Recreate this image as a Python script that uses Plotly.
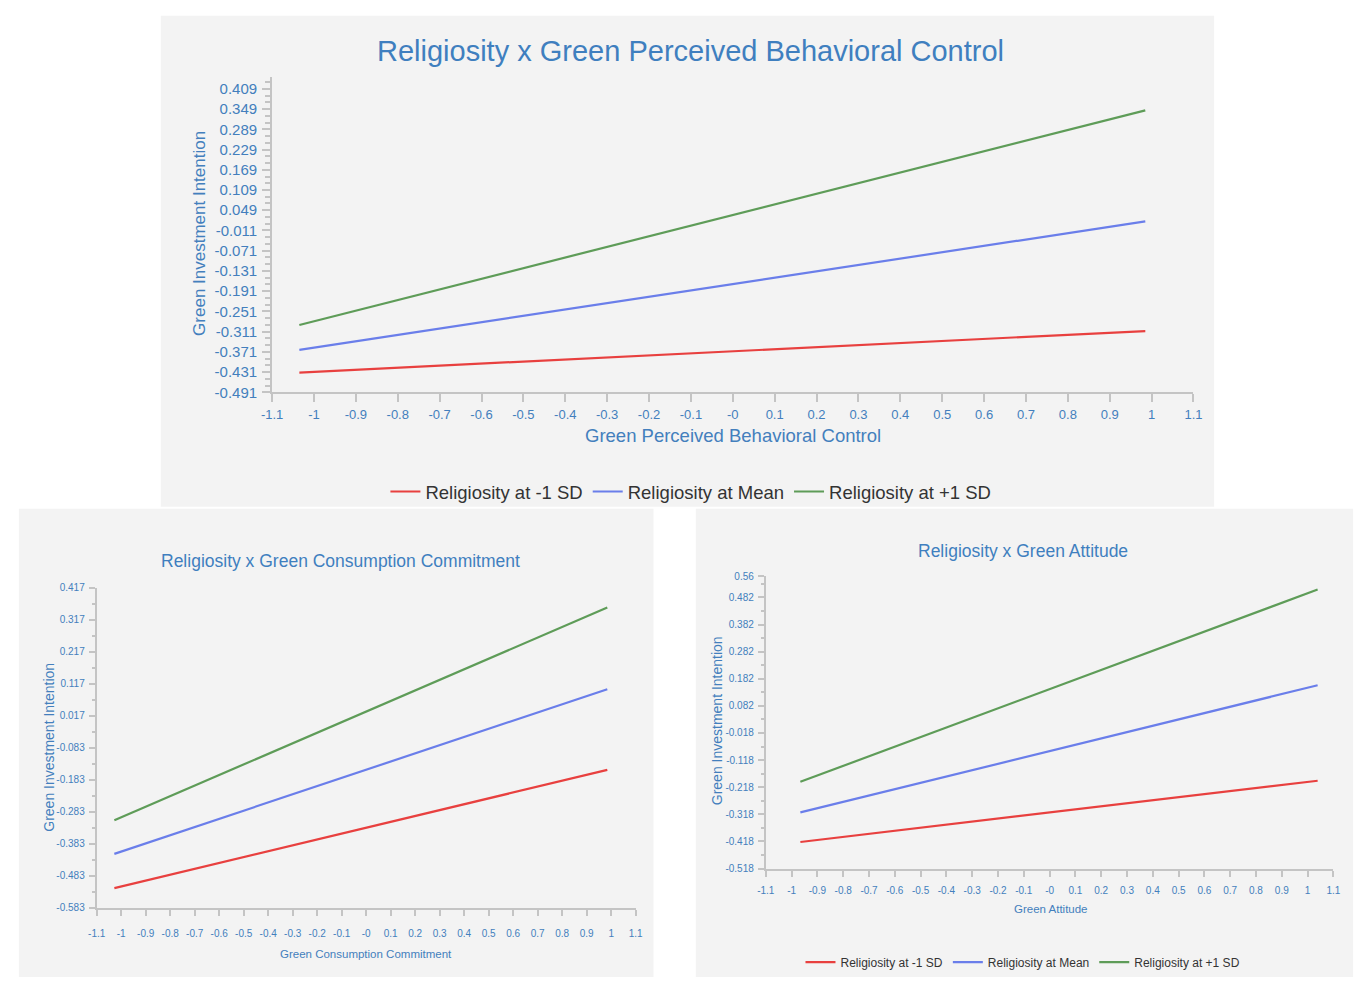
import plotly.graph_objects as go

W, H = 1368, 985

# ---- data: simple slopes of Green Investment Intention ----
series_names = ["Religiosity at -1 SD", "Religiosity at Mean", "Religiosity at +1 SD"]
series_colors = ["#e8403f", "#6a7eea", "#5e9c58"]

pbc_x = [-1.035, 0.985]
pbc_low = [-0.432, -0.309]
pbc_mean = [-0.365, 0.016]
pbc_high = [-0.291, 0.345]

gcc_x = [-1.028, 0.984]
gcc_low = [-0.521, -0.152]
gcc_mean = [-0.414, 0.100]
gcc_high = [-0.309, 0.355]

ga_x = [-0.966, 1.039]
ga_low = [-0.420, -0.194]
ga_mean = [-0.311, 0.158]
ga_high = [-0.198, 0.511]

# ---- tick labels ----
x_tickvals = [-1.1, -1.0, -0.9, -0.8, -0.7, -0.6, -0.5, -0.4, -0.3, -0.2, -0.1, 0.0,
              0.1, 0.2, 0.3, 0.4, 0.5, 0.6, 0.7, 0.8, 0.9, 1.0, 1.1]
x_ticktext = ["-1.1", "-1", "-0.9", "-0.8", "-0.7", "-0.6", "-0.5", "-0.4", "-0.3", "-0.2", "-0.1", "-0",
              "0.1", "0.2", "0.3", "0.4", "0.5", "0.6", "0.7", "0.8", "0.9", "1", "1.1"]

pbc_yticks = [0.409, 0.349, 0.289, 0.229, 0.169, 0.109, 0.049, -0.011, -0.071,
              -0.131, -0.191, -0.251, -0.311, -0.371, -0.431, -0.491]
pbc_ytext = ["0.409", "0.349", "0.289", "0.229", "0.169", "0.109", "0.049", "-0.011", "-0.071",
             "-0.131", "-0.191", "-0.251", "-0.311", "-0.371", "-0.431", "-0.491"]

gcc_yticks = [0.417, 0.317, 0.217, 0.117, 0.017, -0.083, -0.183, -0.283, -0.383, -0.483, -0.583]
gcc_ytext = ["0.417", "0.317", "0.217", "0.117", "0.017", "-0.083", "-0.183", "-0.283", "-0.383", "-0.483", "-0.583"]

ga_yticks = [0.56, 0.482, 0.382, 0.282, 0.182, 0.082, -0.018, -0.118, -0.218, -0.318, -0.418, -0.518]
ga_ytext = ["0.56", "0.482", "0.382", "0.282", "0.182", "0.082", "-0.018", "-0.118", "-0.218", "-0.318", "-0.418", "-0.518"]

BLUE_TXT = "#437fbd"
AXIS_GRAY = "#c4c4c4"
PANEL = "#f3f3f3"
SANS = "Liberation Sans, Arial, sans-serif"


def px(x):
    """Pixel column -> paper fraction."""
    return x / W


def py(y):
    """Pixel row (from top) -> paper fraction."""
    return 1 - y / H


fig = go.Figure()

panels = [
    ("x", "y", pbc_x, [pbc_low, pbc_mean, pbc_high], "legend", True),
    ("x2", "y2", gcc_x, [gcc_low, gcc_mean, gcc_high], "legend", False),
    ("x3", "y3", ga_x, [ga_low, ga_mean, ga_high], "legend2", True),
]
for xa, ya, xs, ys_list, leg, show in panels:
    for name, color, ys in zip(series_names, series_colors, ys_list):
        fig.add_trace(go.Scatter(
            x=xs, y=ys, mode="lines", name=name,
            line=dict(color=color, width=2.2),
            xaxis=xa, yaxis=ya, legend=leg, showlegend=show,
            hoverinfo="skip",
        ))


def xaxis_cfg(domain, anchor, size, ticklen, standoff):
    return dict(
        domain=domain, anchor=anchor, range=[-1.1, 1.1],
        tickmode="array", tickvals=x_tickvals, ticktext=x_ticktext,
        tickfont=dict(size=size, color=BLUE_TXT, family=SANS),
        showline=True, linecolor=AXIS_GRAY, linewidth=2,
        ticks="outside", ticklen=ticklen, tickcolor=AXIS_GRAY, tickwidth=1.5,
        ticklabelstandoff=standoff,
        showgrid=False, zeroline=False, fixedrange=True,
    )


def yaxis_cfg(domain, anchor, rng, vals, text, size, minor_dtick, ticklen, standoff):
    return dict(
        domain=domain, anchor=anchor, range=rng,
        tickmode="array", tickvals=vals, ticktext=text,
        tickfont=dict(size=size, color=BLUE_TXT, family=SANS),
        showline=True, linecolor=AXIS_GRAY, linewidth=2,
        ticks="outside", ticklen=ticklen, tickcolor=AXIS_GRAY, tickwidth=1.5,
        ticklabelstandoff=standoff,
        minor=dict(ticks="outside", ticklen=max(ticklen - 3, 3), tickcolor=AXIS_GRAY, tickwidth=1.5,
                   tick0=rng[0], dtick=minor_dtick, showgrid=False),
        showgrid=False, zeroline=False, fixedrange=True,
    )


fig.update_layout(
    width=W, height=H,
    margin=dict(l=0, r=0, t=0, b=0),
    paper_bgcolor="white", plot_bgcolor="rgba(0,0,0,0)",
    font=dict(family=SANS, color=BLUE_TXT),
    xaxis=xaxis_cfg([px(265), px(1200)], "y", 13, 8, 1),
    yaxis=yaxis_cfg([py(392), py(72)], "x", [-0.491, 0.444], pbc_yticks, pbc_ytext, 15, 0.02, 8, 2),
    xaxis2=xaxis_cfg([px(87), px(634)], "y2", 10, 6, 9),
    yaxis2=yaxis_cfg([py(915), py(590)], "x2", [-0.583, 0.417], gcc_yticks, gcc_ytext, 10, 0.05, 6, 2),
    xaxis3=xaxis_cfg([px(766), px(1342)], "y3", 10, 6, 5),
    yaxis3=yaxis_cfg([py(875), py(578.5)], "x3", [-0.518, 0.56], ga_yticks, ga_ytext, 10, 0.05, 6, 2),
    legend=dict(orientation="h", x=px(690), y=py(493), xanchor="center", yanchor="middle",
                font=dict(size=18.5, family=SANS, color="#333333"), bgcolor="rgba(0,0,0,0)",
                itemwidth=30, tracegroupgap=0),
    legend2=dict(orientation="h", x=px(1027), y=py(970), xanchor="center", yanchor="middle",
                 font=dict(size=12, family=SANS, color="#333333"), bgcolor="rgba(0,0,0,0)",
                 itemwidth=30, tracegroupgap=0),
    showlegend=True,
)

# gray chart panels
for x0, y0, x1, y1 in [(152, 10, 1221, 508), (8, 510, 652, 985), (695, 510, 1362, 985)]:
    fig.add_shape(type="rect", xref="paper", yref="paper",
                  x0=px(x0), x1=px(x1), y0=py(y1), y1=py(y0),
                  fillcolor=PANEL, line=dict(width=0), layer="below")

# chart titles and axis titles
labels = [
    ("Religiosity x Green Perceived Behavioral Control", 690, 46, 29, 0, "#3f7fbf"),
    ("Religiosity x Green Consumption Commitment", 334, 563, 17.5, 0, "#3f7fbf"),
    ("Religiosity x Green Attitude", 1027, 553, 17.5, 0, "#3f7fbf"),
    ("Green Perceived Behavioral Control", 733, 436, 18.5, 0, BLUE_TXT),
    ("Green Investment Intention", 192, 231, 17, -90, BLUE_TXT),
    ("Green Consumption Commitment", 360, 962, 11.5, 0, BLUE_TXT),
    ("Green Investment Intention", 39, 752, 14, -90, BLUE_TXT),
    ("Green Attitude", 1055, 916, 11.5, 0, BLUE_TXT),
    ("Green Investment Intention", 716, 725, 14, -90, BLUE_TXT),
]
for text, cx, cy, size, angle, color in labels:
    fig.add_annotation(text=text, xref="paper", yref="paper", x=px(cx), y=py(cy),
                       xanchor="center", yanchor="middle", showarrow=False, textangle=angle,
                       font=dict(size=size, color=color, family=SANS))

fig.write_html("out.html")
